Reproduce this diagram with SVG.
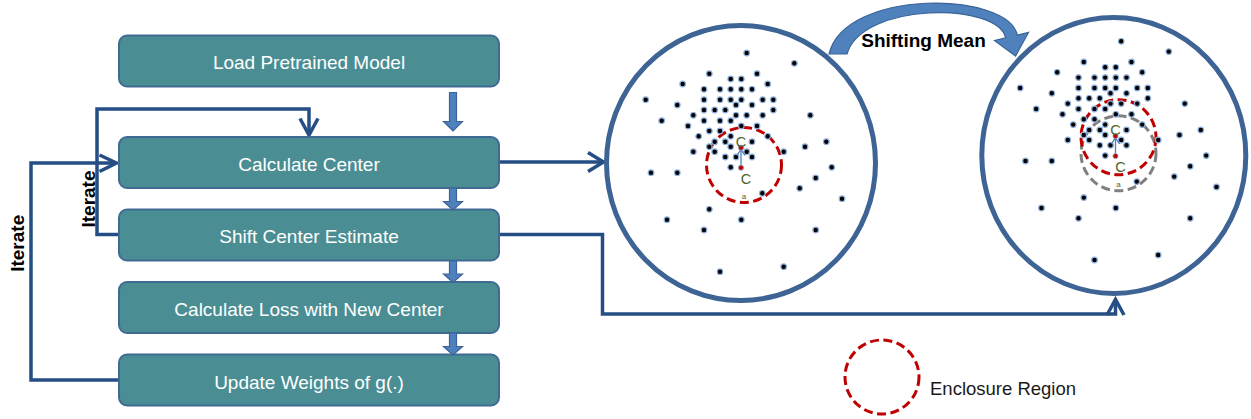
<svg xmlns="http://www.w3.org/2000/svg" xmlns:xlink="http://www.w3.org/1999/xlink" width="1251" height="419" viewBox="0 0 1251 419">
<style>
.box{fill:#4a8e94;stroke:#3f6a94;stroke-width:2}
.lbl{font-family:"Liberation Sans",Arial,sans-serif;font-size:19px;fill:#ffffff;text-anchor:middle}
.conn{fill:none;stroke:#244e84;stroke-width:3.5;stroke-linejoin:miter}
.blk{fill:#4f81bd;stroke:#3a6497;stroke-width:1.2}
.ring{fill:#ffffff;stroke:#3d6494;stroke-width:5}
.dot{fill:#000000;stroke:#8fb0dc;stroke-width:1.2}
.red{fill:none;stroke:#c00000;stroke-width:3;stroke-dasharray:9 4.5}
.gray{fill:none;stroke:#808080;stroke-width:3;stroke-dasharray:9 4.5}
.it{font-family:"Liberation Sans",Arial,sans-serif;font-size:19px;font-weight:bold;fill:#000000;text-anchor:middle}
.cl{font-family:"Liberation Sans",Arial,sans-serif;fill:#4f6228;text-anchor:middle}
</style>
<defs>
<g id="cloud">
<g class="dot">
<circle cx="746.7" cy="53" r="2.8"/><circle cx="794.3" cy="63.3" r="2.8"/><circle cx="709.3" cy="73.7" r="2.8"/><circle cx="757" cy="73.7" r="2.8"/>
<circle cx="730.7" cy="79" r="2.8"/><circle cx="741.3" cy="79" r="2.8"/><circle cx="682.7" cy="84" r="2.8"/><circle cx="767.7" cy="84" r="2.8"/>
<circle cx="704" cy="89.3" r="2.8"/><circle cx="720" cy="89.3" r="2.8"/><circle cx="730.7" cy="89.3" r="2.8"/><circle cx="741.3" cy="89.3" r="2.8"/><circle cx="752" cy="89.3" r="2.8"/>
<circle cx="645.7" cy="99.7" r="2.8"/><circle cx="677.3" cy="105" r="2.8"/>
<circle cx="704" cy="99.7" r="2.8"/><circle cx="720" cy="99.7" r="2.8"/><circle cx="730.7" cy="99.7" r="2.8"/><circle cx="741.3" cy="99.7" r="2.8"/><circle cx="762.7" cy="99.7" r="2.8"/><circle cx="773.3" cy="99.7" r="2.8"/>
<circle cx="736" cy="105" r="2.8"/><circle cx="752" cy="105" r="2.8"/>
<circle cx="704" cy="110" r="2.8"/><circle cx="714.7" cy="110" r="2.8"/><circle cx="725.3" cy="110" r="2.8"/><circle cx="773.3" cy="110" r="2.8"/>
<circle cx="693.3" cy="115.3" r="2.8"/><circle cx="736" cy="115.3" r="2.8"/><circle cx="746.7" cy="115.3" r="2.8"/><circle cx="762.7" cy="115.3" r="2.8"/><circle cx="810.3" cy="115.3" r="2.8"/>
<circle cx="661.7" cy="120.7" r="2.8"/><circle cx="704" cy="120.7" r="2.8"/><circle cx="720" cy="120.7" r="2.8"/><circle cx="730.7" cy="120.7" r="2.8"/>
<circle cx="688" cy="126" r="2.8"/><circle cx="741.3" cy="126" r="2.8"/><circle cx="757" cy="126" r="2.8"/>
<circle cx="709.3" cy="131" r="2.8"/><circle cx="720" cy="131" r="2.8"/>
<circle cx="698.7" cy="136.3" r="2.8"/><circle cx="730.7" cy="136.3" r="2.8"/><circle cx="767.7" cy="136.3" r="2.8"/>
<circle cx="714.7" cy="141.7" r="2.8"/><circle cx="725.3" cy="141.7" r="2.8"/><circle cx="752" cy="141.7" r="2.8"/><circle cx="826.3" cy="141.7" r="2.8"/>
<circle cx="709.3" cy="146.7" r="2.8"/><circle cx="730.7" cy="146.7" r="2.8"/><circle cx="805" cy="146.7" r="2.8"/>
<circle cx="693.3" cy="151.7" r="2.8"/><circle cx="714.7" cy="151.7" r="2.8"/><circle cx="746.7" cy="151.7" r="2.8"/><circle cx="783.7" cy="151.7" r="2.8"/>
<circle cx="725.3" cy="157" r="2.8"/><circle cx="736" cy="157" r="2.8"/><circle cx="752" cy="157" r="2.8"/>
<circle cx="730.7" cy="167.3" r="2.8"/><circle cx="651" cy="172.7" r="2.8"/><circle cx="677.3" cy="172.7" r="2.8"/>
<circle cx="831.7" cy="167.3" r="2.8"/><circle cx="815.7" cy="178" r="2.8"/><circle cx="799.7" cy="188.3" r="2.8"/><circle cx="762.3" cy="193.3" r="2.8"/><circle cx="842" cy="198.7" r="2.8"/>
<circle cx="709.3" cy="209.3" r="2.8"/><circle cx="667" cy="219.7" r="2.8"/><circle cx="741.3" cy="219.7" r="2.8"/>
<circle cx="704" cy="230" r="2.8"/><circle cx="815.7" cy="230" r="2.8"/><circle cx="783.7" cy="266.7" r="2.8"/><circle cx="720" cy="271.7" r="2.8"/>
</g>
<line x1="741" y1="165" x2="741" y2="150" stroke="#4f81bd" stroke-width="1.3"/>
<polyline points="737,155.5 741,149.5 745,155.5" fill="none" stroke="#4f81bd" stroke-width="1.3"/>
<circle cx="741" cy="147.7" r="2.6" fill="#c00000" stroke="#8fb0dc" stroke-width="0.8"/>
<circle cx="741" cy="167.7" r="2.6" fill="#c00000" stroke="#8fb0dc" stroke-width="0.8"/>
<text class="cl" x="741" y="147" font-size="14.5">C</text>
<text class="cl" x="746" y="184" font-size="14.5">C</text>
<text class="cl" x="744" y="199" font-size="8">a</text>
</g>
</defs>
<rect width="1251" height="419" fill="#ffffff"/>

<g id="connectors">
<polyline class="conn" points="119,234.5 97,234.5 97,109 309,109 309,135"/>
<polyline class="conn" points="300,118.5 309,135 318,118.5"/>
<polyline class="conn" points="119,380 31,380 31,163 116,163"/>
<polyline class="conn" points="99.5,155 116.5,163 99.5,171.5"/>
<polyline class="conn" points="499,162 603,162"/>
<polyline class="conn" points="588,152.5 603.5,162 588,171.5"/>
<polyline class="conn" points="499,234.5 602.5,234.5 602.5,314 1115.5,314 1115.5,300"/>
<polyline class="conn" points="1107,315 1115.5,299.5 1124,315"/>
</g>

<g id="node-load"><rect class="box" x="119" y="35.5" width="380" height="51" rx="8"/><text class="lbl" x="309" y="69.3">Load Pretrained Model</text></g>
<g id="node-calc"><rect class="box" x="119" y="137" width="380" height="51" rx="8"/><text class="lbl" x="309" y="170.7">Calculate Center</text></g>
<g id="node-shift"><rect class="box" x="119" y="209.5" width="380" height="51" rx="8"/><text class="lbl" x="309" y="243.3">Shift Center Estimate</text></g>
<g id="node-loss"><rect class="box" x="119" y="282" width="380" height="51" rx="8"/><text class="lbl" x="309" y="315.7">Calculate Loss with New Center</text></g>
<g id="node-update"><rect class="box" x="119" y="354.5" width="380" height="51" rx="8"/><text class="lbl" x="309" y="389">Update Weights of g(.)</text></g>

<g id="flow-arrows">
<polygon class="blk" points="449.5,92.5 456.5,92.5 456.5,121.5 462.5,121.5 453,131 443.5,121.5 449.5,121.5"/>
<polygon class="blk" points="449.5,188 456.5,188 456.5,201.5 462.5,201.5 453,210 443.5,201.5 449.5,201.5"/>
<polygon class="blk" points="449.5,261 456.5,261 456.5,274 462.5,274 453,282.5 443.5,274 449.5,274"/>
<polygon class="blk" points="449.5,333 456.5,333 456.5,346.5 462.5,346.5 453,355 443.5,346.5 449.5,346.5"/>
</g>

<g id="labels-iterate">
<text class="it" transform="translate(24,243.3) rotate(-90)">Iterate</text>
<text class="it" transform="translate(94.5,199) rotate(-90)">Iterate</text>
</g>

<g id="shifting-mean">
<path d="M829,54 C845,-12 1008,-9 1017.4,35.2 L1028.5,32.5 L1015.6,56 L994.5,40.5 L1005.6,37.8 C998,2 862,2 847,54 Z" fill="#4f81bd" stroke="#3a6497" stroke-width="1.2"/>
<text class="it" x="923.5" y="46.5" font-size="18.5">Shifting Mean</text>
</g>

<g id="cluster-before">
<ellipse class="ring" cx="741" cy="163" rx="134.5" ry="137.5"/>
<circle class="red" cx="744" cy="165" r="37.5"/>
<use xlink:href="#cloud" href="#cloud"/>
</g>

<g id="cluster-after">
<ellipse class="ring" cx="1113.8" cy="155.5" rx="132" ry="138"/>
<circle class="gray" cx="1118.5" cy="153.3" r="37.5"/>
<circle class="red" cx="1118.5" cy="137.2" r="37.5"/>
<use xlink:href="#cloud" href="#cloud" transform="translate(374.5,-11.7)"/>
</g>

<g id="legend">
<circle class="red" cx="882" cy="377" r="37"/>
<text x="930" y="395" font-family="Liberation Sans, Arial, sans-serif" font-size="18.5" fill="#1a1a1a">Enclosure Region</text>
</g>
</svg>
